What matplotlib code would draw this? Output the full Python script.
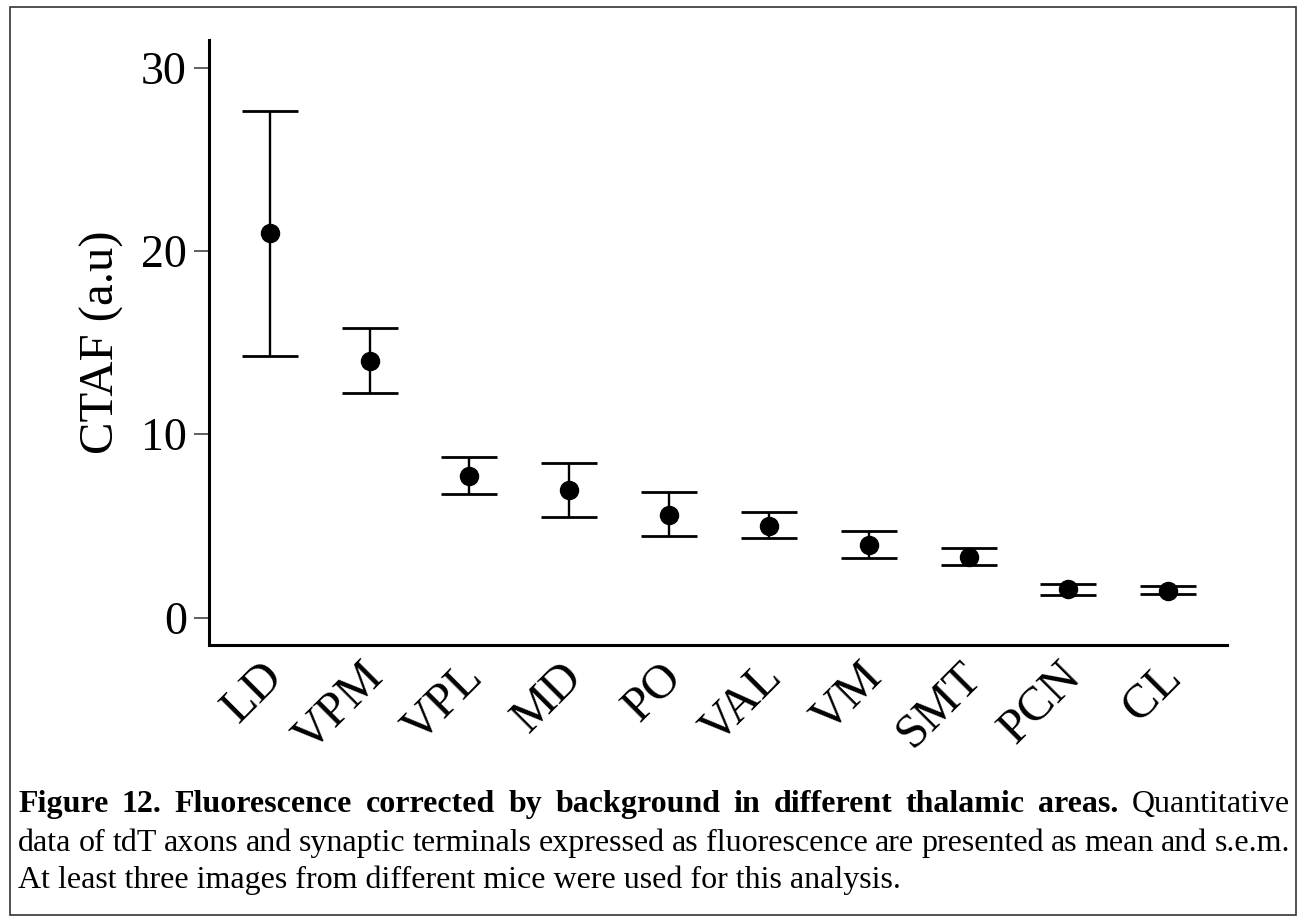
import matplotlib
matplotlib.use("Agg")
import matplotlib.pyplot as plt
from matplotlib.patches import Rectangle
from matplotlib.transforms import ScaledTranslation

areas = ["LD", "VPM", "VPL", "MD", "PO", "VAL", "VM", "SMT", "PCN", "CL"]
mean = [20.96, 14.0, 7.73, 6.95, 5.58, 5.0, 3.95, 3.31, 1.55, 1.47]
upper = [27.64, 15.8, 8.76, 8.42, 6.82, 5.75, 4.71, 3.78, 1.85, 1.71]
lower = [14.29, 12.24, 6.76, 5.49, 4.44, 4.31, 3.22, 2.84, 1.24, 1.29]
yticks = [0, 10, 20, 30]

caption = [
    [("Figure", "bold"), ("12.", "bold"), ("Fluorescence", "bold"), ("corrected", "bold"),
     ("by", "bold"), ("background", "bold"), ("in", "bold"), ("different", "bold"),
     ("thalamic", "bold"), ("areas.", "bold"), ("Quantitative", "normal")],
    [(w, "normal") for w in "data of tdT axons and synaptic terminals expressed as "
                            "fluorescence are presented as mean and s.e.m.".split()],
]
last_line = "At least three images from different mice were used for this analysis."

plt.rcParams['font.family'] = ['Liberation Serif', 'DejaVu Serif']

fig = plt.figure(figsize=(13.06, 9.23), dpi=100)
fig.patches.append(Rectangle((10 / 1306, 1 - 915 / 923), 1286 / 1306, 908 / 923,
                             transform=fig.transFigure, fill=False,
                             edgecolor='#333333', linewidth=1.2))

ax = fig.add_axes([209 / 1306, 1 - 645 / 923, 1018 / 1306, 605 / 923])
x = list(range(len(areas)))
err = [[m - lo for m, lo in zip(mean, lower)], [up - m for m, up in zip(mean, upper)]]
ax.errorbar(x, mean, yerr=err, fmt='o', color='black', markersize=13,
            elinewidth=1.7, capsize=20, capthick=2.0)

ax.set_xlim(-0.61, 9.59)
ax.set_ylim(-1.5, 31.5)
ax.set_yticks(yticks)
ax.set_xticks(x)
ax.set_xticklabels(areas, rotation=45, ha='right', va='center',
                   rotation_mode='anchor', fontsize=35)
ax.tick_params(axis='x', length=0, pad=18)
ax.tick_params(axis='y', length=11, width=1.2, color='#444444', labelsize=33, pad=5)
# nudge the rotated labels a little to the right (after tick_params, which resets transforms)
nudge = ScaledTranslation(6 / 100, 0, fig.dpi_scale_trans)
for lab in ax.get_xticklabels():
    lab.set_transform(lab.get_transform() + nudge)
ax.set_ylabel('CTAF (a.u)', fontsize=35, labelpad=12)
for side in ['top', 'right']:
    ax.spines[side].set_visible(False)
for side in ['left', 'bottom']:
    ax.spines[side].set_linewidth(2.2)

# caption, first two lines justified between x0 and x1
fs = 23
x0, x1 = 18, 1290
renderer = fig.canvas.get_renderer()
for row, base in zip(caption, [812, 851, 888]):
    items = [fig.text(0, 1 - base / 923, w, fontsize=fs, fontweight=wt, va='baseline')
             for w, wt in row]
    widths = [t.get_window_extent(renderer).width for t in items]
    gap = (x1 - x0 - sum(widths)) / (len(items) - 1)
    pos = x0
    for t, wd in zip(items, widths):
        t.set_x(pos / 1306)
        pos += wd + gap
fig.text(x0 / 1306, 1 - 888 / 923, last_line, fontsize=fs, ha='left', va='baseline')

fig.savefig('out.png', dpi=100)
